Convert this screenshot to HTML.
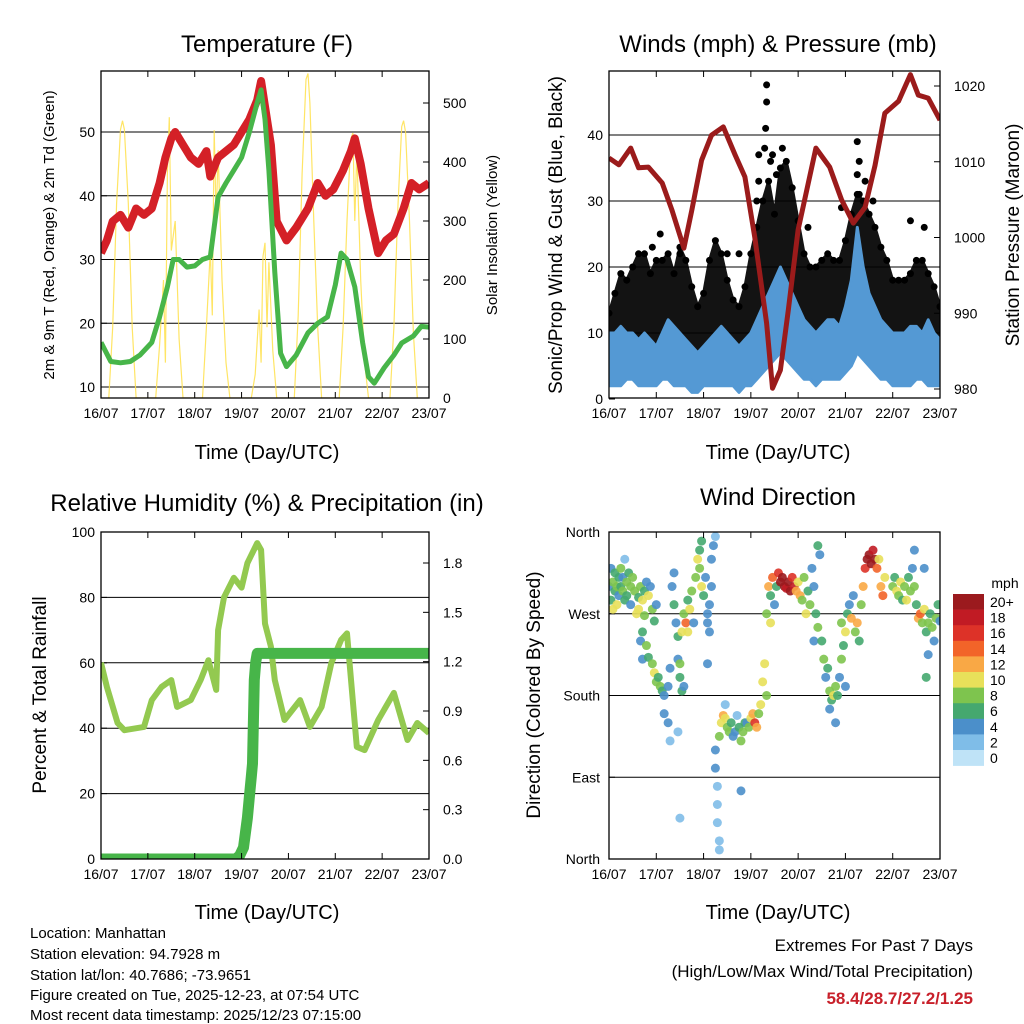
<!DOCTYPE html>
<html><head><meta charset="utf-8"><title>Weather station charts</title>
<style>
html,body{margin:0;padding:0;background:#fff;}
svg{display:block;font-family:"Liberation Sans",Arial,sans-serif;}
.t{font-size:14px;fill:#000;}
.ttl{font-size:24px;fill:#000;}
.ax{font-size:20px;fill:#000;}
.info{font-size:15px;fill:#000;}
</style></head>
<body>
<svg id="chart" width="1024" height="1024" viewBox="0 0 1024 1024" xmlns="http://www.w3.org/2000/svg">
<rect width="1024" height="1024" fill="#fff"/>
<g id="p1"></g>
<g id="p2"></g>
<g id="p3"></g>
<g id="p4"></g>

<text class="ttl" x="267" y="52" text-anchor="middle">Temperature (F)</text>
<text class="ttl" x="778" y="52" text-anchor="middle">Winds (mph) &amp; Pressure (mb)</text>
<text class="ttl" x="267" y="511" text-anchor="middle">Relative Humidity (%) &amp; Precipitation (in)</text>
<text class="ttl" x="778" y="505" text-anchor="middle">Wind Direction</text>

<text x="0" y="0" font-size="15" transform="translate(54,235) rotate(-90)" text-anchor="middle">2m &amp; 9m T (Red, Orange) &amp; 2m Td (Green)</text>
<text x="0" y="0" font-size="15" transform="translate(497,235) rotate(-90)" text-anchor="middle">Solar Insolation (Yellow)</text>
<text x="0" y="0" font-size="19" transform="translate(562,235) rotate(-90)" text-anchor="middle">Sonic/Prop Wind &amp; Gust (Blue, Black)</text>
<text x="0" y="0" font-size="19" transform="translate(1019,235) rotate(-90)" text-anchor="middle">Station Pressure (Maroon)</text>
<text x="0" y="0" font-size="19" transform="translate(46,695) rotate(-90)" text-anchor="middle">Percent &amp; Total Rainfall</text>
<text x="0" y="0" font-size="19" transform="translate(540,695) rotate(-90)" text-anchor="middle">Direction (Colored By Speed)</text>

<text class="ax" x="267" y="459" text-anchor="middle">Time (Day/UTC)</text>
<text class="ax" x="778" y="459" text-anchor="middle">Time (Day/UTC)</text>
<text class="ax" x="267" y="919" text-anchor="middle">Time (Day/UTC)</text>
<text class="ax" x="778" y="919" text-anchor="middle">Time (Day/UTC)</text>

<g>
<text class="info" x="30" y="938">Location: Manhattan</text>
<text class="info" x="30" y="959">Station elevation: 94.7928 m</text>
<text class="info" x="30" y="980">Station lat/lon: 40.7686; -73.9651</text>
<text class="info" x="30" y="1000">Figure created on Tue, 2025-12-23, at 07:54 UTC</text>
<text class="info" x="30" y="1020">Most recent data timestamp: 2025/12/23 07:15:00</text>
</g>
<g>
<text x="973" y="951" font-size="17" text-anchor="end">Extremes For Past 7 Days</text>
<text x="973" y="977" font-size="17" text-anchor="end">(High/Low/Max Wind/Total Precipitation)</text>
<text x="973" y="1004" font-size="17" font-weight="bold" fill="#c8202a" text-anchor="end">58.4/28.7/27.2/1.25</text>
</g>
<text x="1005" y="588" font-size="14" text-anchor="middle">mph</text>
<g id="cbar"></g>
</svg>
<script>
// ---------- data ----------
const dayLabels = ["16/07","17/07","18/07","19/07","20/07","21/07","22/07","23/07"];
const tempHours = [0,3,6,10,14,18,22,26,30,33,36,38,42,46,50,54,56,60,64,68,72,76,80,82,84,87,90,95,100,106,111,115,119,124,128,130,133,137,142,146,150,155,159,163,168];
const tempValues = [31,33,36,37,35,38,37,38,42,46,49,50,48,46,45,47,43,46,47,48,50,52,55,58,54,48,36,33,35,38,42,40,41,44,47,49,45,38,31,33,34,38,42,41,42];
const dewHours = [0,5,10,15,20,26,30,34,37,40,44,48,52,56,60,64,68,72,76,80,82,84,86,89,92,95,100,106,111,116,120,123,126,130,134,137,140,145,150,154,160,164,168];
const dewValues = [17,14,13.8,14,15,17,21,25.7,30,30,28.8,29,30,30.4,39.8,42,44,46,50,54.6,56.6,52,44,28,15.3,13.2,15,18.5,20,21,26,31,30,25.7,17,11.6,10.6,13,15,16.9,18,19.5,19.4];
const solarHours = [4,6,8,10,11,12,14,16,18, 28,30,32,33,34,35,36,38,40,42, 52,54,56,57,58,59,60,62,64,66, 77,79,81,82,83,84,85,86,88,90, 99,101,103,105,106,107,109,111,113, 122,124,126,128,129,130,131,133,135,137, 148,150,152,154,155,156,158,160,162];
const solarValues = [0,120,330,455,470,455,330,120,0, 0,90,200,60,380,476,250,300,100,0, 0,120,250,140,454,300,420,200,60,0, 0,40,150,60,240,263,120,230,80,0, 0,140,380,540,550,500,300,120,0, 0,120,300,440,449,300,420,200,60,0, 0,120,320,460,470,450,300,110,0];
const pressHours = [0,5,11,15,20,27,32,38,42,47,52,58,64,69,74,80,83,87,91,96,105,112,118,124,130,135,140,147,153,157,162,168];
const pressValues = [1010.5,1009.6,1011.8,1009.2,1009.3,1007.2,1003.6,998.6,1003.6,1010.2,1013.5,1014.6,1010.9,1008,1000,988.7,980.1,982.5,990.4,1001,1011.8,1009.3,1005,1001.9,1004,1009.5,1016.4,1018,1021.5,1018.8,1018.4,1015.5];
const windHours = [0,3,6,9,12,15,18,21,24,27,30,33,36,39,42,45,48,51,54,57,60,63,66,69,72,75,78,81,84,87,90,93,96,99,102,105,108,111,114,117,120,123,126,129,132,135,138,141,144,147,150,153,156,159,162,165,168];
const windHigh = [10,10,11,10,10,9,10,9,8,10,12,11,10,9,8,7,8,9,10,11,10,9,8,9,10,12,14,16,18,20,18,16,14,12,11,10,11,12,12,11,14,18,26,20,16,14,12,11,10,10,10,11,11,10,12,10,9];
const windLow = [2,2,2,3,3,2,2,2,2,3,3,2,2,2,1,1,2,2,2,2,2,2,1,2,2,3,4,5,6,7,6,5,4,3,3,2,3,3,3,3,4,5,7,6,5,4,3,3,2,2,2,2,3,3,2,2,2];
const gustHigh = [13,16,19,18,20,22,22,19,21,21,22,19,23,21,17,14,16,21,24,22,18,15,14,17,22,26,30,33,28,35,36,32,27,22,20,20,21,22,21,21,24,28,31,30,28,26,23,21,18,18,18,19,21,21,19,17,14];
const gustLow = [5,6,7,7,8,7,7,6,6,7,8,7,7,6,6,5,5,6,7,7,6,5,5,6,7,8,9,10,12,14,14,12,10,8,7,7,7,8,8,7,8,10,12,13,12,10,8,7,7,6,7,7,8,8,7,7,6];
const gustOutlierHours = [80,80,79.5,79,83,76,76,75,126,127,126,127,118,160,36,26,60,101,153,66,22,82,85,88,130,134];
const gustOutlierValues = [47.6,45,41,38,37,37,33,30,39,36,34,31,29,26,22,25,22,26,27,22,23,36,34,38,33,30];
const rhHours = [0,3,8.5,12,22,26,31,36,39,46,51,55,59,60,63,68,72,75,80,82,84,87,89,94,102,107,113,118,123,126,131,135,142,150,157,162,168];
const rhValues = [60,52.6,41.6,39.4,40.4,48.6,52.6,54.7,46.5,48.6,54.7,60.8,51.7,70,80,86,83,90.5,96.6,94.5,72,65,54.7,42.5,48.6,40.4,46.5,60,67,69,34.3,33.3,42.5,50.8,36.4,41.6,38.5];
const precipHours = [0,69,71,73,75,76,77,77.6,78.5,79.3,80,168];
const precipValues = [0,0,0.02,0.07,0.25,0.38,0.5,0.58,1.09,1.2,1.25,1.25];
const dirPoints = [
[0,300,4],[1,285,6],[1,320,4],[2,305,7],[2,275,10],[3,295,6],[3,315,5],[4,300,8],[4,280,10],[5,310,6],[5,290,4],[6,320,7],[6,300,5],[7,295,8],[7,310,4],[8,285,6],[8,330,2],[9,305,7],[9,290,5],[10,315,6],[11,300,8],[11,280,4],
[12,310,7],[13,295,8],[14,270,10],[15,288,6],[15,275,9],[16,300,7],[17,285,10],[18,295,6],[18,268,8],[19,305,4],[20,290,9],[21,300,4],[22,275,8],[23,262,6],[24,280,4],
[16,240,4],[17,250,6],[17,220,4],[19,235,8],[20,222,6],[22,215,8],[23,205,10],[24,195,8],[25,200,6],[26,190,8],[27,185,6],[28,180,4],[28,160,4],[30,150,4],[31,130,2],[35,140,2],[30,190,4],[31,210,4],
[32,300,4],[33,315,4],[33,280,6],[34,260,4],[35,245,6],[35,220,4],[36,200,6],[37,185,6],[37,250,10],[38,270,8],[39,260,14],[40,250,10],[40,285,6],[41,275,10],[42,295,8],[43,260,4],[36,215,8],[38,190,4],[36,45,2],
[44,310,8],[45,330,10],[46,340,6],[46,320,8],[47,350,6],[47,300,10],[48,290,6],[49,310,4],[50,270,4],[50,260,4],[51,280,4],[52,330,4],[53,345,4],[54,355,2],[52,300,4],[51,250,4],[50,215,4],
[54,100,4],[55,80,2],[55,60,2],[55,40,2],[56,20,2],[56,10,2],[54,120,4],[56,135,8],[57,150,10],[58,158,12],[59,155,10],[60,145,8],[61,140,8],[62,150,6],[63,135,4],[64,140,4],[65,158,2],[66,145,6],[67,130,8],[68,140,8],[69,150,6],[70,150,4],[71,145,8],[72,155,10],[73,160,12],[74,150,16],[75,145,12],[76,160,8],[77,170,10],[78,195,10],[79,215,10],[80,180,8],[67,75,4],[59,170,2],
[80,270,8],[81,300,12],[82,290,6],[82,260,10],[83,310,14],[84,280,4],[85,300,6],[86,315,16],[87,305,20],[88,310,20],[89,300,20],[90,298,18],[91,305,20],[92,295,20],[93,310,16],[94,300,18],[95,295,12],[96,305,10],[97,290,12],[98,285,8],[99,310,8],[100,270,10],[101,295,6],[102,280,8],[103,320,4],[104,300,4],[105,270,6],[106,345,6],[106,255,8],[104,240,4],[107,335,4],
[108,240,6],[109,220,8],[110,200,4],[111,210,6],[112,185,8],[113,175,6],[114,180,10],[115,190,8],[116,180,6],[117,200,4],[118,220,8],[119,235,6],[120,250,10],[121,270,6],[122,280,4],[123,265,12],[124,290,4],[125,250,8],[126,260,12],[127,240,6],[115,150,4],[112,165,4],[120,190,4],[118,260,8],
[129,300,12],[130,320,16],[131,330,20],[132,335,20],[133,325,20],[134,340,18],[135,330,20],[136,320,14],[137,330,10],[138,300,12],[139,290,14],[140,310,10],[128,280,8],
[144,300,8],[145,310,6],[146,295,10],[147,290,8],[148,305,10],[149,285,6],[150,300,8],[151,285,10],[152,310,6],[153,295,8],[154,320,4],[155,300,8],[156,280,6],[157,265,12],[158,270,14],[159,260,8],[160,275,10],[161,250,6],[162,260,8],[163,270,6],[164,255,8],[165,240,4],[166,265,8],[167,280,6],[168,262,4],[160,320,4],[161,200,6],[162,225,4],[155,340,4]
];
const speedLabels = ["20+","18","16","14","12","10","8","6","4","2","0"];
const speedColors = ["#9b1a1e","#c11b24","#dd3228","#f26429","#f9a845","#e8e05a","#7ec44e","#45a86f","#4b8fca","#7fbde8","#bfe3f7"];
const tempTicks = [10,20,30,40,50];
const solarTicks = [0,100,200,300,400,500];
const windTicks = [0,10,20,30,40];
const pressTicks = [980,990,1000,1010,1020];
const rhTicks = [0,20,40,60,80,100];
const precipTicks = [0,0.3,0.6,0.9,1.2,1.5,1.8];
const dirTicks = [0,90,180,270,360];
const dirTickLabels = ["North","East","South","West","North"];

// ---------- helpers ----------
const NS="http://www.w3.org/2000/svg";
function mk(tag,parent,attrs){const e=document.createElementNS(NS,tag);for(const k in attrs)e.setAttribute(k,attrs[k]);parent.appendChild(e);return e;}
function pathFrom(xs,ys,fx,fy){return xs.map((h,i)=>(i?'L':'M')+fx(h).toFixed(1)+','+fy(ys[i]).toFixed(1)).join('');}

const P = {
 p1:{x0:101,x1:429,y0:71,y1:398}, p2:{x0:609,x1:940,y0:71,y1:398},
 p3:{x0:101,x1:429,y0:532,y1:859}, p4:{x0:609,x1:940,y0:532,y1:859}};
function xs(p){return h=>p.x0+h*(p.x1-p.x0)/168;}
function lin(d0,d1,r0,r1){return v=>r0+(v-d0)*(r1-r0)/(d1-d0);}

const x1=xs(P.p1), x2=xs(P.p2), x3=xs(P.p3), x4=xs(P.p4);
const yT=lin(10,50,387,132), ySol=lin(0,500,398,103);
const yW=lin(0,40,399,135), yP=lin(980,1020,389,86);
const yRH=lin(0,100,859,532), yPr=lin(0,1.8,859,563);
const yD=lin(0,360,859,532);

function frame(g,p,xf,name){
  const gl=mk('g',g,{});
  
  
  dayLabels.forEach((lab,i)=>{
    const x=xf(i*24);
    const tk=mk('path',gl,{d:`M${x},${p.y1}v-6M${x},${p.y0}v6`,stroke:'#000','stroke-width':1});
    
    
    const t=mk('text',gl,{x:x,y:p.y1+20,'text-anchor':'middle',class:'t'});
    
    
    t.textContent=lab;
  });
  const r=mk('rect',g,{x:p.x0,y:p.y0,width:p.x1-p.x0,height:p.y1-p.y0,fill:'none',stroke:'#000','stroke-width':1.3});
  
  
}
function leftTicks(g,p,ticks,yf,labels,grid,name,dx){
  ticks.forEach((v,i)=>{
    const y=yf(v);
    if(grid && y>p.y0+1 && y<p.y1-1){
      const l=mk('line',g,{x1:p.x0,x2:p.x1,y1:y,y2:y,stroke:'#000','stroke-width':1});
      
      
    }
    const tk=mk('line',g,{x1:p.x0,x2:p.x0+6,y1:y,y2:y,stroke:'#000'});
    
    
    const t=mk('text',g,{x:p.x0-(dx||6),y:y+5,'text-anchor':'end',class:'t'});
    
    
    t.textContent=labels?labels[i]:v;
  });
}
function rightTicks(g,p,ticks,yf,labels,name){
  ticks.forEach((v,i)=>{
    const y=yf(v);
    const tk=mk('line',g,{x1:p.x1-6,x2:p.x1,y1:y,y2:y,stroke:'#000'});
    
    
    const t=mk('text',g,{x:p.x1+14,y:y+5,'text-anchor':'start',class:'t'});
    
    
    t.textContent=labels?labels[i]:v;
  });
}
function clip(id,p){
  const defs=mk('defs',document.getElementById('chart'),{});
  const c=mk('clipPath',defs,{id:id});
  mk('rect',c,{x:p.x0,y:p.y0,width:p.x1-p.x0,height:p.y1-p.y0});
}

// ---------- panel 1 ----------
(function(){
 const g=document.getElementById('p1'), p=P.p1; clip('c1',p);
 leftTicks(g,p,tempTicks,yT,null,true,'temperature');
 rightTicks(g,p,solarTicks,ySol,null,'solar');
 const m=mk('g',g,{'clip-path':'url(#c1)'});
 const s=mk('path',m,{d:pathFrom(solarHours,solarValues,x1,ySol),fill:'none',stroke:'#ffe04a','stroke-width':1.2,opacity:0.85});
 
 
 const r=mk('path',m,{d:pathFrom(tempHours,tempValues,x1,yT),fill:'none',stroke:'#d42027','stroke-width':8,'stroke-linejoin':'round'});
 
 
 const d=mk('path',m,{d:pathFrom(dewHours,dewValues,x1,yT),fill:'none',stroke:'#47b549','stroke-width':5,'stroke-linejoin':'round'});
 
 
 frame(g,p,x1,'temperature');
})();

// ---------- panel 2 ----------
(function(){
 const g=document.getElementById('p2'), p=P.p2; clip('c2',p);
 leftTicks(g,p,windTicks,yW,null,true,'wind');
 rightTicks(g,p,pressTicks,yP,null,'pressure');
 const m=mk('g',g,{'clip-path':'url(#c2)'});
 const band=(hi,lo)=>pathFrom(windHours,hi,x2,yW)+windHours.slice().reverse().map((h,i)=>'L'+x2(h).toFixed(1)+','+yW(lo[lo.length-1-i]).toFixed(1)).join('')+'Z';
 const gb=mk('path',m,{d:band(gustHigh,gustLow),fill:'#000',stroke:'#000','stroke-width':3,'stroke-linejoin':'round',opacity:0.92});
 
 
 windHours.forEach((h,i)=>{
   const c=mk('circle',m,{cx:x2(h),cy:yW(gustHigh[i]),r:3.5,fill:'#000'});
   
   
 });
 gustOutlierHours.forEach((h,i)=>{
   const c=mk('circle',m,{cx:x2(h),cy:yW(gustOutlierValues[i]),r:3.5,fill:'#000'});
   
   
 });
 const wb=mk('path',m,{d:band(windHigh,windLow),fill:'#5499d4',stroke:'#5499d4','stroke-width':3,'stroke-linejoin':'round'});
 
 
 const pr=mk('path',m,{d:pathFrom(pressHours,pressValues,x2,yP),fill:'none',stroke:'#9b1b1b','stroke-width':5,'stroke-linejoin':'round'});
 
 
 frame(g,p,x2,'winds');
})();

// ---------- panel 3 ----------
(function(){
 const g=document.getElementById('p3'), p=P.p3; clip('c3',p);
 leftTicks(g,p,rhTicks,yRH,null,true,'humidity');
 rightTicks(g,p,precipTicks,yPr,precipTicks.map(v=>v.toFixed(1)),'precip');
 const m=mk('g',g,{'clip-path':'url(#c3)'});
 const rh=mk('path',m,{d:pathFrom(rhHours,rhValues,x3,yRH),fill:'none',stroke:'#93c950','stroke-width':6,'stroke-linejoin':'round'});
 
 
 const pc=mk('path',m,{d:pathFrom(precipHours,precipValues,x3,yPr),fill:'none',stroke:'#47b549','stroke-width':11,'stroke-linejoin':'round','stroke-linecap':'round'});
 
 
 frame(g,p,x3,'humidity');
})();

// ---------- panel 4 ----------
(function(){
 const g=document.getElementById('p4'), p=P.p4; clip('c4',p);
 leftTicks(g,p,dirTicks,yD,dirTickLabels,true,'direction',9);
 const m=mk('g',g,{'clip-path':'url(#c4)'});
 dirPoints.forEach(pt=>{
   const idx=Math.min(10,Math.round(pt[2]/2));
   const c=mk('circle',m,{cx:x4(pt[0]),cy:yD(pt[1]),r:4.5,fill:speedColors[10-idx],opacity:0.9});
   
   
 });
 frame(g,p,x4,'direction');
 const cb=document.getElementById('cbar');
 const h=15.6;
 speedLabels.forEach((lab,i)=>{
   const r=mk('rect',cb,{x:953,y:594+i*h,width:31,height:h+0.3,fill:speedColors[i]});
   
   
   const t=mk('text',cb,{x:990,y:594+i*h+13,'font-size':14});
   
   
   t.textContent=lab;
 });
})();
</script>
</body></html>
